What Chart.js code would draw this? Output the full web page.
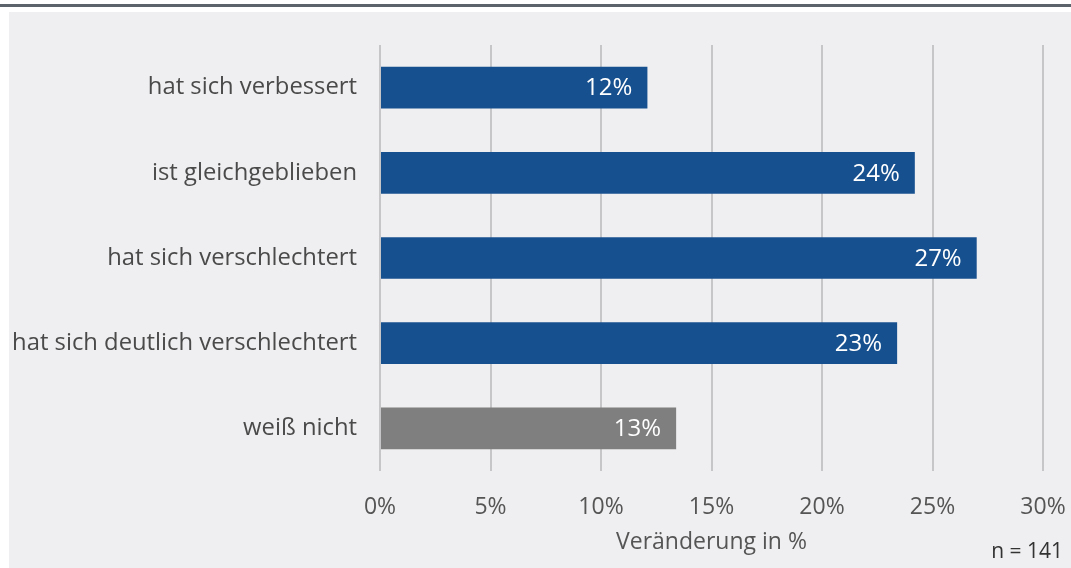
<!DOCTYPE html>
<html>
<head>
<meta charset="utf-8">
<script src="https://cdn.jsdelivr.net/npm/chart.js@4/dist/chart.umd.min.js"></script>
<style>
  html, body { margin: 0; padding: 0; background: #fff; }
  #wrap { width: 1071px; height: 568px; }
</style>
</head>
<body>
<div id="wrap"><canvas id="chart" width="1071" height="568"></canvas></div>
<script>
// data
const categories = [
  'hat sich verbessert',
  'ist gleichgeblieben',
  'hat sich verschlechtert',
  'hat sich deutlich verschlechtert',
  'weiß nicht'
];
const values = [12.1, 24.2, 27.0, 23.4, 13.4];
const barColors = ['#17508f', '#17508f', '#17508f', '#17508f', '#7f7f7f'];
const xTicks = [0, 5, 10, 15, 20, 25, 30];
const axisTitle = 'Veränderung in %';
const sampleNote = 'n = 141';

const FONT = "'Open Sans', sans-serif";

// page background: thin dark rule on top, light grey panel
const backdrop = {
  id: 'backdrop',
  beforeDraw(chart) {
    const ctx = chart.ctx;
    ctx.save();
    ctx.fillStyle = '#ffffff';
    ctx.fillRect(0, 0, chart.width, chart.height);
    ctx.fillStyle = '#5d636a';
    ctx.fillRect(0, 4, chart.width, 3);
    ctx.fillStyle = '#efeff1';
    ctx.fillRect(9, 12, chart.width - 9, chart.height - 12);
    ctx.restore();
  }
};

// white value labels inside bar ends + sample note
const valueLabels = {
  id: 'valueLabels',
  afterDatasetsDraw(chart) {
    const ctx = chart.ctx;
    const meta = chart.getDatasetMeta(0);
    ctx.save();
    ctx.font = '24px ' + FONT;
    ctx.fillStyle = '#ffffff';
    ctx.textAlign = 'right';
    ctx.textBaseline = 'middle';
    meta.data.forEach((bar, i) => {
      ctx.fillText(Math.round(values[i]) + '%', bar.x - 15, bar.y + 1);
    });
    ctx.font = '21px ' + FONT;
    ctx.fillStyle = '#333333';
    ctx.fillText(sampleNote, chart.width - 8, 552);
    ctx.restore();
  }
};

new Chart(document.getElementById('chart'), {
  type: 'bar',
  data: {
    labels: categories,
    datasets: [{
      data: values,
      backgroundColor: barColors,
      borderWidth: 0,
      barPercentage: 0.49,
      categoryPercentage: 1
    }]
  },
  options: {
    indexAxis: 'y',
    responsive: false,
    animation: false,
    layout: { padding: { top: 45, right: 28, left: 0, bottom: 0 } },
    plugins: {
      legend: { display: false },
      tooltip: { enabled: false }
    },
    scales: {
      x: {
        min: 0,
        max: 30,
        afterBuildTicks(scale) {
          scale.ticks = xTicks.map(v => ({ value: v }));
        },
        afterFit(scale) {
          scale.height = 97;
          scale.paddingLeft = 0;
          scale.paddingRight = 0;
        },
        grid: { color: '#c6c6c8', lineWidth: 2, drawTicks: false },
        border: { display: false },
        ticks: {
          padding: 23,
          color: '#555555',
          font: { family: FONT, size: 23 },
          callback: v => v + '%'
        },
        title: {
          display: true,
          text: axisTitle,
          color: '#555555',
          font: { family: FONT, size: 23 },
          padding: { top: 0, bottom: 12 }
        }
      },
      y: {
        afterFit(scale) { scale.width = 380; },
        grid: { display: false, drawTicks: false },
        border: { display: false },
        ticks: {
          padding: 23,
          color: '#4a4a4a',
          font: { family: FONT, size: 23.8 }
        }
      }
    }
  },
  plugins: [backdrop, valueLabels]
});
</script>
</body>
</html>
